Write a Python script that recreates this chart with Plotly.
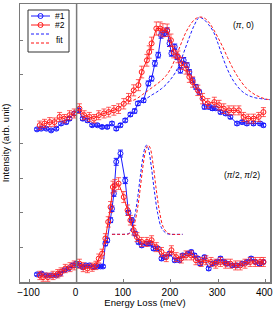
import plotly.graph_objects as go

# ---------------- data ----------------
# (pi, 0) spectra
up1_x = [-84, -75, -64, -54, -43, -33, -22, -15, -5, 4, 13, 23, 33, 44, 54, 65, 75, 84, 93, 103,
         114, 123, 130, 142, 152, 159, 166, 173, 179, 186, 192, 197, 201, 208, 213, 220, 227, 234,
         239, 246, 253, 260, 271, 281, 288, 295, 305, 316, 326, 340, 351, 361, 375, 389, 396]
up1_y = [4.42, 4.44, 4.44, 4.39, 4.44, 4.59, 4.63, 4.73, 4.88, 4.97, 4.73, 4.68, 4.54, 4.54, 4.49,
         4.49, 4.59, 4.44, 4.54, 4.68, 4.85, 4.95, 5.17, 5.26, 5.75, 5.89, 6.33, 6.57, 7.15, 7.20,
         7.27, 6.91, 6.62, 6.81, 6.52, 6.13, 6.42, 6.28, 6.08, 5.84, 5.65, 5.50, 5.07, 5.07, 5.03,
         5.03, 4.92, 4.88, 4.78, 4.59, 4.63, 4.59, 4.59, 4.59, 4.54]
up1_e = [0.04, 0.04, 0.04, 0.04, 0.04, 0.05, 0.05, 0.05, 0.05, 0.06, 0.05, 0.05, 0.04, 0.04, 0.04,
         0.04, 0.05, 0.05, 0.05, 0.05, 0.05, 0.06, 0.06, 0.06, 0.07, 0.07, 0.08, 0.08, 0.09, 0.09,
         0.09, 0.09, 0.08, 0.08, 0.08, 0.08, 0.08, 0.07, 0.07, 0.07, 0.07, 0.06, 0.06, 0.06, 0.06,
         0.05, 0.05, 0.05, 0.05, 0.05, 0.05, 0.05, 0.05, 0.05, 0.05]

up2_x = [-78, -68, -57, -47, -36, -26, -15, -5, 6, 16, 27, 37, 47, 58, 68, 79, 89, 100, 110, 121,
         131, 138, 149, 154, 159, 169, 177, 183, 192, 200, 206, 215, 222, 232, 239, 246, 257, 267,
         278, 292, 302, 312, 323, 333, 344, 354, 364, 375, 386, 396]
up2_y = [4.54, 4.59, 4.63, 4.63, 4.78, 4.73, 4.83, 4.88, 5.02, 4.83, 4.78, 4.73, 4.83, 4.88, 4.92,
         4.97, 5.02, 5.16, 5.31, 5.55, 5.70, 6.08, 6.42, 6.66, 6.91, 7.34, 7.34, 7.29, 7.29, 7.00,
         6.66, 6.52, 6.33, 6.18, 5.94, 5.79, 5.55, 5.31, 5.17, 5.21, 5.12, 5.02, 4.97, 4.97, 4.97,
         4.78, 4.73, 4.73, 4.78, 4.92]
up2_e = [0.12, 0.12, 0.13, 0.12, 0.13, 0.12, 0.13, 0.13, 0.14, 0.13, 0.13, 0.12, 0.13, 0.13, 0.14,
         0.14, 0.14, 0.15, 0.15, 0.16, 0.16, 0.17, 0.17, 0.18, 0.18, 0.19, 0.19, 0.19, 0.18, 0.18,
         0.17, 0.17, 0.17, 0.16, 0.16, 0.15, 0.15, 0.15, 0.14, 0.14, 0.14, 0.14, 0.13, 0.13, 0.13,
         0.13, 0.13, 0.13, 0.13, 0.13]

upfit1_x = [130, 140, 150, 160, 170, 180, 190, 200, 210, 220, 230, 240, 250, 260, 270, 280, 290,
            300, 310, 320, 330, 340, 350, 360, 370, 380, 390, 400, 410]
upfit1_y = [5.24, 5.27, 5.33, 5.42, 5.50, 5.60, 5.72, 5.88, 6.08, 6.38, 6.75, 7.12, 7.45, 7.66,
            7.60, 7.45, 7.25, 6.90, 6.50, 6.15, 5.88, 5.68, 5.53, 5.43, 5.37, 5.33, 5.31, 5.29, 5.28]
upfit2_x = [110, 120, 130, 140, 150, 160, 170, 180, 190, 200, 210, 220, 230, 240, 250, 260, 270,
            280, 290, 300, 310, 320, 330, 340, 350, 360, 370, 380, 390, 400, 410]
upfit2_y = [5.22, 5.26, 5.33, 5.43, 5.53, 5.63, 5.73, 5.84, 5.98, 6.19, 6.50, 6.85, 7.18, 7.43,
            7.60, 7.67, 7.65, 7.53, 7.32, 7.07, 6.80, 6.50, 6.22, 5.98, 5.78, 5.61, 5.50, 5.41,
            5.35, 5.30, 5.28]

# (pi/2, pi/2) spectra
lo1_x = [-84, -74, -64, -54, -43, -35, -26, -17, -8, -1, 6, 13, 20, 27, 37, 44, 51, 56, 61, 65,
         72, 75, 79, 84, 93, 103, 110, 117, 124, 131, 138, 149, 156, 163, 172, 180, 187, 197, 208,
         218, 225, 236, 243, 250, 257, 262, 271, 280, 288, 297, 305, 313, 319, 330, 340, 351, 361,
         370, 379, 388, 396]
lo1_y = [0.22, 0.24, 0.19, 0.19, 0.19, 0.24, 0.34, 0.39, 0.48, 0.53, 0.48, 0.43, 0.48, 0.48, 0.43,
         0.45, 0.45, 0.45, 1.11, 1.21, 1.79, 2.12, 2.56, 3.48, 3.72, 2.94, 2.00, 1.79, 1.40, 1.16,
         1.06, 1.11, 1.11, 0.97, 0.97, 0.68, 0.72, 0.82, 0.63, 0.63, 0.77, 0.82, 0.87, 0.77, 0.68,
         0.53, 0.72, 0.39, 0.53, 0.58, 0.68, 0.58, 0.53, 0.48, 0.48, 0.53, 0.58, 0.68, 0.58, 0.53,
         0.58]
lo1_e = [0.04, 0.04, 0.04, 0.04, 0.04, 0.04, 0.04, 0.04, 0.05, 0.05, 0.05, 0.05, 0.04, 0.04, 0.04,
         0.04, 0.04, 0.04, 0.06, 0.06, 0.07, 0.08, 0.08, 0.10, 0.10, 0.09, 0.07, 0.07, 0.06, 0.06,
         0.05, 0.05, 0.05, 0.05, 0.05, 0.05, 0.05, 0.05, 0.05, 0.05, 0.05, 0.05, 0.05, 0.05, 0.05,
         0.05, 0.05, 0.05, 0.05, 0.05, 0.05, 0.05, 0.05, 0.05, 0.05, 0.05, 0.05, 0.05, 0.05, 0.05,
         0.05]

lo2_x = [-78, -71, -61, -50, -40, -33, -24, -14, -5, 6, 14, 23, 33, 41, 47, 54, 61, 67, 72, 77,
         81, 89, 100, 108, 114, 121, 128, 138, 149, 159, 169, 180, 190, 201, 211, 222, 232, 243,
         253, 264, 274, 285, 295, 305, 316, 326, 337, 347, 357, 368, 379, 389, 396]
lo2_y = [0.19, 0.14, 0.14, 0.19, 0.24, 0.29, 0.39, 0.43, 0.48, 0.53, 0.43, 0.39, 0.43, 0.48, 0.68,
         0.82, 1.26, 1.74, 2.17, 2.75, 2.80, 2.85, 2.46, 2.08, 1.79, 1.50, 1.30, 1.16, 1.16, 1.21,
         1.01, 0.87, 0.72, 0.92, 0.72, 0.68, 0.77, 0.77, 0.63, 0.58, 0.63, 0.58, 0.53, 0.58, 0.53,
         0.53, 0.48, 0.48, 0.53, 0.58, 0.58, 0.58, 0.58]
lo2_e = [0.12, 0.12, 0.12, 0.12, 0.12, 0.12, 0.12, 0.13, 0.13, 0.13, 0.13, 0.12, 0.12, 0.12, 0.13,
         0.13, 0.14, 0.15, 0.16, 0.17, 0.17, 0.17, 0.16, 0.15, 0.14, 0.14, 0.13, 0.13, 0.13, 0.13,
         0.13, 0.13, 0.13, 0.13, 0.13, 0.13, 0.13, 0.13, 0.13, 0.13, 0.13, 0.13, 0.13, 0.13, 0.13,
         0.13, 0.13, 0.13, 0.13, 0.13, 0.13, 0.13, 0.13]

lofit1_x = [75, 90, 100, 110, 115, 120, 125, 130, 135, 140, 145, 148, 152, 158, 165, 172, 180,
            190, 200, 212, 225]
lofit1_y = [1.38, 1.38, 1.38, 1.40, 1.52, 1.72, 2.04, 2.50, 3.05, 3.56, 3.89, 3.96, 3.87, 3.38,
            2.62, 1.98, 1.57, 1.41, 1.38, 1.38, 1.38]
lofit2_x = [75, 90, 100, 110, 115, 120, 125, 130, 135, 140, 145, 150, 152, 156, 162, 169, 176,
            184, 194, 204, 225]
lofit2_y = [1.38, 1.38, 1.38, 1.39, 1.44, 1.58, 1.82, 2.20, 2.72, 3.28, 3.72, 3.94, 3.96, 3.88,
            3.42, 2.66, 2.02, 1.58, 1.41, 1.38, 1.38]

x_ticks = [-100, 0, 100, 200, 300, 400]
x_ticktext = ["−100", "0", "100", "200", "300", "400"]
y_ticks = [1, 2, 3, 4, 5, 6, 7]

# ---------------- styling ----------------
BLUE = "#1a1aff"
RED = "#ff1a1a"
GRAY = "#7a7a7a"
FONT = "Liberation Sans, Arial, Helvetica, sans-serif"

W, H = 274, 309
ML, MR, MT, MB = 20, 4, 4, 27


def data_trace(x, y, e, color, ecolor):
    return go.Scatter(
        x=x, y=y, mode="lines+markers",
        line=dict(color=color, width=1),
        marker=dict(symbol="circle-open", size=5, color=color, line=dict(width=1, color=color)),
        error_y=dict(type="data", array=e, visible=True, color=ecolor, thickness=1, width=2.5),
        showlegend=False, hoverinfo="skip",
    )


def fit_trace(x, y, color):
    return go.Scatter(
        x=x, y=y, mode="lines", line=dict(color=color, width=1, dash="3px,2px", shape="spline"),
        showlegend=False, hoverinfo="skip",
    )


fig = go.Figure()
fig.add_trace(data_trace(up1_x, up1_y, up1_e, BLUE, BLUE))
fig.add_trace(data_trace(lo1_x, lo1_y, lo1_e, BLUE, BLUE))
fig.add_trace(data_trace(up2_x, up2_y, up2_e, RED, "rgba(255,40,40,0.75)"))
fig.add_trace(data_trace(lo2_x, lo2_y, lo2_e, RED, "rgba(255,40,40,0.75)"))
fig.add_trace(fit_trace(upfit1_x, upfit1_y, BLUE))
fig.add_trace(fit_trace(upfit2_x, upfit2_y, RED))
fig.add_trace(fit_trace(lofit1_x, lofit1_y, BLUE))
fig.add_trace(fit_trace(lofit2_x, lofit2_y, RED))

pw, ph = W - ML - MR, H - MT - MB


def px(xp):
    return (xp - ML) / pw


def py(yp):
    return (H - MB - yp) / ph


shapes = [
    dict(type="line", xref="x", yref="paper", x0=0, x1=0, y0=0, y1=1,
         line=dict(color=GRAY, width=1.5)),
    # legend box
    dict(type="rect", xref="paper", yref="paper", x0=px(28), x1=px(69), y0=py(52), y1=py(10),
         line=dict(color="#333333", width=1), fillcolor="white"),
    dict(type="line", xref="paper", yref="paper", x0=px(31), x1=px(50), y0=py(16), y1=py(16),
         line=dict(color=BLUE, width=1)),
    dict(type="circle", xref="paper", yref="paper", x0=px(38), x1=px(43), y0=py(18.5), y1=py(13.5),
         line=dict(color=BLUE, width=1)),
    dict(type="line", xref="paper", yref="paper", x0=px(31), x1=px(50), y0=py(25), y1=py(25),
         line=dict(color=RED, width=1)),
    dict(type="circle", xref="paper", yref="paper", x0=px(38), x1=px(43), y0=py(27.5), y1=py(22.5),
         line=dict(color=RED, width=1)),
    dict(type="line", xref="paper", yref="paper", x0=px(31), x1=px(50), y0=py(34), y1=py(34),
         line=dict(color=BLUE, width=1, dash="3px,2px")),
    dict(type="line", xref="paper", yref="paper", x0=px(31), x1=px(50), y0=py(43), y1=py(43),
         line=dict(color="#ff6060", width=1.5, dash="3px,2px")),
]

annotations = [
    dict(text="#1", xref="paper", yref="paper", x=px(53), y=py(16), xanchor="left", yanchor="middle",
         showarrow=False, font=dict(size=8.5, color="black", family=FONT)),
    dict(text="#2", xref="paper", yref="paper", x=px(53), y=py(25), xanchor="left", yanchor="middle",
         showarrow=False, font=dict(size=8.5, color="black", family=FONT)),
    dict(text="fit", xref="paper", yref="paper", x=px(54), y=py(40), xanchor="left", yanchor="middle",
         showarrow=False, font=dict(size=8.5, color="black", family=FONT)),
    dict(text="(<i>π</i>, 0)", xref="paper", yref="paper", x=px(243), y=py(25), xanchor="center",
         yanchor="middle", showarrow=False, font=dict(size=8.5, color="black", family=FONT)),
    dict(text="(<i>π</i>/2, <i>π</i>/2)", xref="paper", yref="paper", x=px(242), y=py(175),
         xanchor="center", yanchor="middle", showarrow=False,
         font=dict(size=8.5, color="black", family=FONT)),
]

fig.update_layout(
    width=W, height=H,
    margin=dict(l=ML, r=MR, t=MT, b=MB, pad=0),
    paper_bgcolor="white", plot_bgcolor="white",
    font=dict(family=FONT, size=10, color="black"),
    showlegend=False,
    shapes=shapes, annotations=annotations,
    xaxis=dict(
        range=[-120, 410], tickvals=x_ticks, ticktext=x_ticktext,
        ticks="inside", ticklen=3, tickcolor=GRAY, tickwidth=1,
        showline=True, linecolor=GRAY, linewidth=1.5, mirror=True,
        showgrid=False, zeroline=False, automargin=False, ticklabeloverflow="allow",
        ticklabelshift=-1,
        tickfont=dict(size=10, family=FONT),
        title=dict(text="Energy Loss (meV)", font=dict(size=9.5, family=FONT), standoff=2),
    ),
    yaxis=dict(
        range=[0, 8.05], tickvals=y_ticks, showticklabels=False,
        ticks="inside", ticklen=3, tickcolor=GRAY, tickwidth=1,
        showline=True, linecolor=GRAY, linewidth=1.5, mirror=True,
        showgrid=False, zeroline=False, automargin=False,
        title=dict(text="Intensity (arb. unit)", font=dict(size=9.5, family=FONT), standoff=10),
    ),
)

fig.write_html(
    "out.html",
    config={"displayModeBar": False, "staticPlot": True},
    post_script="document.body.style.margin='0';document.body.style.overflow='hidden';",
)
